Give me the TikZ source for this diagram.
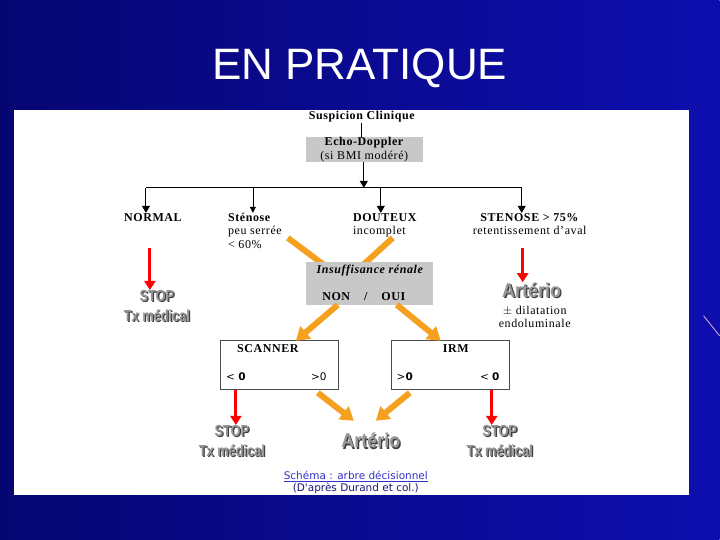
\documentclass[tikz,border=0pt]{standalone}
\usepackage{fontspec}
\setmainfont{Liberation Serif}[LetterSpace=5]
\newfontfamily\titlefont{Liberation Sans}
\newfontfamily\stopfont{Liberation Sans}[FakeStretch=0.8]
\newfontfamily\artfont{Liberation Sans}[FakeStretch=0.9]
\newfontfamily\capfont{DejaVu Sans}
\usepackage{tikz}
\usetikzlibrary{arrows.meta}
\definecolor{bgdark}{RGB}{6,6,115}
\definecolor{bgblue}{RGB}{14,14,175}
\definecolor{boxgrey}{RGB}{200,200,200}
\definecolor{orangearr}{RGB}{245,160,30}
\definecolor{stopgrey}{RGB}{150,150,150}
\definecolor{capblue}{RGB}{50,50,200}
\definecolor{capdark}{RGB}{25,25,120}

\begin{document}
\begin{tikzpicture}[
    x=1pt, y=-1pt,
    lbl/.style={font=\fontsize{12}{13.5}\selectfont, inner sep=0pt, align=left},
    blbl/.style={font=\bfseries\fontsize{12}{13.5}\selectfont, inner sep=0pt},
    greybox/.style={fill=boxgrey, inner sep=0pt, align=center, font=\fontsize{12}{14}\selectfont},
    resbox/.style={draw=black!70, fill=white, line width=0.6pt, minimum width=118pt, minimum height=50pt, inner sep=0pt},
    sign/.style={font=\capfont\fontsize{10.5}{12}\selectfont, inner sep=0pt},
    blk/.style={-{Triangle[length=7pt,width=8pt]}, line width=0.9pt},
    blkthin/.style={-{Triangle[length=6pt,width=6pt]}, line width=0.6pt},
    redarr/.style={-{Triangle[length=9pt,width=11pt]}, line width=3pt, red},
    orarr/.style={-{Triangle[length=13pt,width=16pt]}, line width=6pt, orangearr},
    stoptx/.style={font=\stopfont\bfseries\fontsize{16}{20}\selectfont, text=stopgrey, inner sep=0pt, align=center},
    stopsh/.style={font=\stopfont\bfseries\fontsize{16}{20}\selectfont, text=black!75, inner sep=0pt, align=center},
    arttx/.style={font=\artfont\bfseries\fontsize{20}{22}\selectfont, text=stopgrey, inner sep=0pt},
    artsh/.style={font=\artfont\bfseries\fontsize{20}{22}\selectfont, text=black!75, inner sep=0pt}
]
% slide
\shade[left color=bgdark, right color=bgblue] (0,0) rectangle (720,540);
\fill[white] (14,110) rectangle (689,495);
\draw[violet!30, line width=0.8pt] (704,316) -- (720,336);
\node[font=\titlefont\fontsize{44}{50}\selectfont, text=white] (title) at (360,68) {EN PRATIQUE};

% top
\node[blbl] (susp) at (362,117) {Suspicion Clinique};
\node[greybox, minimum width=117pt, minimum height=25pt] (echo) at (364.5,149.5) {\textbf{Echo-Doppler}\\(si BMI modéré)};
\coordinate (split) at (364,188);
\coordinate (bl) at (146,188);
\coordinate (br) at (522,188);
\draw[line width=0.9pt] (susp) -- (susp |- echo.north);
\draw[blk] (echo.south -| split) -- (split);
\draw[line width=0.9pt] (bl) -- (br);

% branches
\node[blbl, anchor=north west] (normal) at (124,213) {NORMAL};
\node[lbl, anchor=north west] (sten) at (228,213) {\textbf{Sténose}\\peu serrée\\< 60\%};
\node[lbl, anchor=north west] (dout) at (353,213) {\textbf{DOUTEUX}\\incomplet};
\node[lbl, anchor=north, align=center] (stenb) at (530,213) {\textbf{STENOSE > 75\%}\\retentissement d'aval};
\coordinate (bs) at (253,188);
\coordinate (bd) at (381,188);
\draw[blk] (bl) -- (bl |- normal.north);
\draw[blkthin] (bs) -- (bs |- sten.north);
\draw[blk] (bd) -- (bd |- dout.north);
\draw[blk] (br) -- (br |- stenb.north);

% left / right ends
\node[stopsh] (stopAsh) at (158.3,307.3) {STOP\\Tx médical};
\node[stoptx] (stopA) at (157,306) {STOP\\Tx médical};
\coordinate (redA) at (150,248);
\draw[redarr] (redA) -- (redA |- stopA.north);
\node[artsh] (artBsh) at (533.3,291.3) {Artério};
\node[arttx] (artB) at (532,290) {Artério};
\coordinate (redB) at (523,248);
\draw[redarr] (redB) -- (redB |- artB.north);
\node[lbl, align=center] (dilat) at (535,317) {$\pm$ dilatation\\endoluminale};

% insuffisance renale
\coordinate (orA) at (288,238);
\coordinate (orB) at (393,238);
\coordinate (inA) at (328,268);
\coordinate (inB) at (360,268);
\draw[orangearr, line width=6pt] (orA) -- (inA);
\draw[orangearr, line width=6pt] (orB) -- (inB);
\node[fill=boxgrey, minimum width=127pt, minimum height=43pt] (insuf) at (370,283.5) {};
\node[blbl, font=\bfseries\itshape\fontsize{12}{13.5}\selectfont] (insuft) at (370,271) {Insuffisance rénale};
\node[blbl] (nonoui) at (364,297) {NON\hspace{14pt}/\hspace{14pt}OUI};

% scanner / irm
\node[resbox] (scan) at (279,365) {};
\node[resbox] (irm) at (450.5,365) {};
\node[blbl] (scant) at (268,349) {SCANNER};
\node[blbl] (irmt) at (456,349) {IRM};
\node[sign] (scanneg) at (236,377) {< \textbf{0}};
\node[sign] (scanpos) at (319,377) {>0};
\node[sign] (irmpos) at (405,377) {>\textbf{0}};
\node[sign] (irmneg) at (490,377) {< \textbf{0}};
\coordinate (outA) at (338,305);
\coordinate (outB) at (397,305);
\coordinate (topA) at (296,341);
\coordinate (topB) at (441,341);
\draw[orarr] (outA) -- (topA);
\draw[orarr] (outB) -- (topB);

% bottom
\coordinate (redC) at (236,390);
\coordinate (redD) at (492,390);
\node[stopsh] (stopCsh) at (233.3,442.3) {STOP\\Tx médical};
\node[stoptx] (stopC) at (232,441) {STOP\\Tx médical};
\node[stopsh] (stopDsh) at (501.3,442.3) {STOP\\Tx médical};
\node[stoptx] (stopD) at (500,441) {STOP\\Tx médical};
\draw[redarr] (redC) -- (redC |- stopC.north);
\draw[redarr] (redD) -- (redD |- stopD.north);
\node[artsh] (artCsh) at (372.3,442.3) {Artério};
\node[arttx] (artC) at (371,441) {Artério};
\coordinate (orC) at (318,393);
\coordinate (orD) at (410,393);
\draw[orarr] (orC) -- (354,421);
\draw[orarr] (orD) -- (376,421);

% legend
\node[font=\capfont\fontsize{10.5}{12.5}\selectfont, text=capblue] (cap) at (356,477) {\underline{Schéma : arbre décisionnel}};
\node[font=\capfont\fontsize{10.5}{12.5}\selectfont, text=capdark] (capsrc) at (356,489) {(D'après Durand et col.)};
\end{tikzpicture}
\end{document}
